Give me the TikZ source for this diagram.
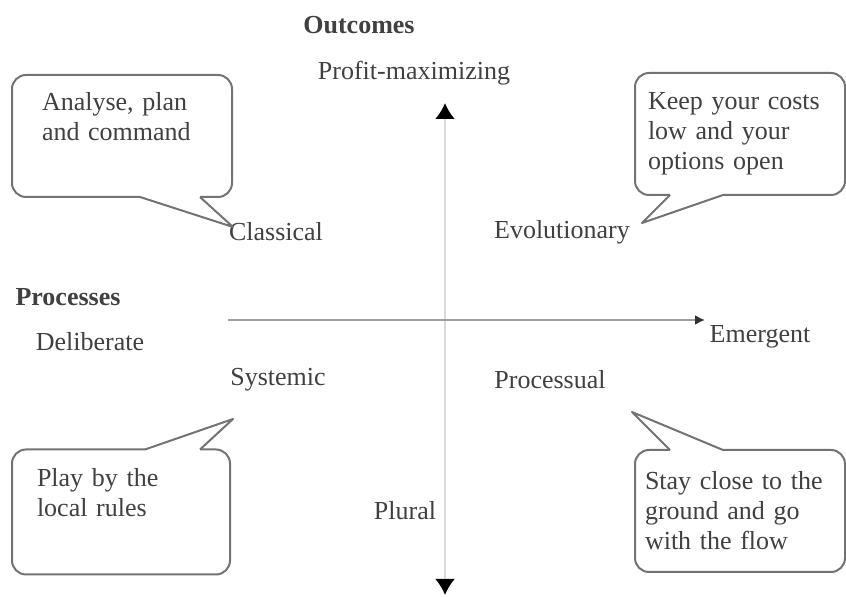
\documentclass[tikz,border=0pt]{standalone}
\usepackage{fontspec}
\setmainfont{Liberation Serif}
\usetikzlibrary{arrows.meta,calc,positioning}

\tikzset{
  rotulo/.style={font=\fontsize{13pt}{15pt}\selectfont, text=black!75, inner sep=1pt},
  titulo/.style={rotulo, font=\fontsize{13pt}{15pt}\selectfont\bfseries},
  balao/.style={draw=black!55, line width=1pt, rounded corners=7pt, fill=white,
    minimum height=61pt, inner sep=0pt, outer sep=0pt, align=left, text width=#1,
    font=\fontsize{13pt}{15pt}\selectfont, text=black!75},
  ponta/.style={draw=black!55, line width=1pt, line join=round},
  eixo/.style={line width=1.2pt}
}

\begin{document}
\begin{tikzpicture}[x=0.5pt,y=-0.5pt]
  \useasboundingbox (0,0) rectangle (846,597);

  % Eixos
  \coordinate (topo) at (445,103);
  \coordinate (fundo) at (445,595);
  \coordinate (esq) at (228,320);
  \coordinate (dir) at (705,320);
  \draw[eixo, gray!30, {Latex[color=black,length=8pt,width=10pt]}-{Latex[color=black,length=8pt,width=10pt]}] (topo) -- (fundo);
  \draw[eixo, gray!75, -{Latex[color=black!80,length=5pt,width=5pt]}] (esq) -- (dir);

  % Rotulos
  \foreach \nome/\pos/\txt in {prof/{414,73}/Profit-maximizing, delib/{90,342}/Deliberate,
      emerg/{760,337}/Emergent, classical/{276,232}/Classical, evol/{562,232}/Evolutionary,
      syst/{278,380}/Systemic, proc/{550,380}/Processual, plural/{405,511}/Plural} {
    \node[rotulo] (\nome) at (\pos) {\txt};
  }
  \node[titulo] (outc) at (359,25) {Outcomes};
  \node[titulo] (procs) at (68,297) {Processes};

  % Baloes
  \node[balao=80pt, minimum width=110pt] (plan) at (122,136) {Analyse, plan\\and command\\\strut};
  \node[balao=92pt, minimum width=105pt] (costs) at (740,134) {Keep your costs\\low and your\\options open};
  \node[balao=84pt, minimum width=109pt, minimum height=62.5pt] (rules) at (121,512) {Play by the\\local rules\\\strut};
  \node[balao=95pt, minimum width=105pt] (flow) at (740,511) {Stay close to the\\ground and go\\with the flow};

  % Pontas dos baloes
  \coordinate (tipcl) at (233,227);
  \coordinate (tipev) at (642,223);
  \coordinate (tipsy) at (233,419);
  \coordinate (tippr) at (632,412);
  \foreach \bx/\tip/\p/\q/\canto in {plan/tipcl/128/188/south west, costs/tipev/35/88/south west,
      rules/tipsy/133/188/north west, flow/tippr/35/88/north west} {
    \draw[white, line width=2pt] ($(\bx.\canto)+(\p,0)$) -- ($(\bx.\canto)+(\q,0)$);
    \draw[ponta] ($(\bx.\canto)+(\p,0)$) -- (\tip) -- ($(\bx.\canto)+(\q,0)$);
  }
\end{tikzpicture}
\end{document}
